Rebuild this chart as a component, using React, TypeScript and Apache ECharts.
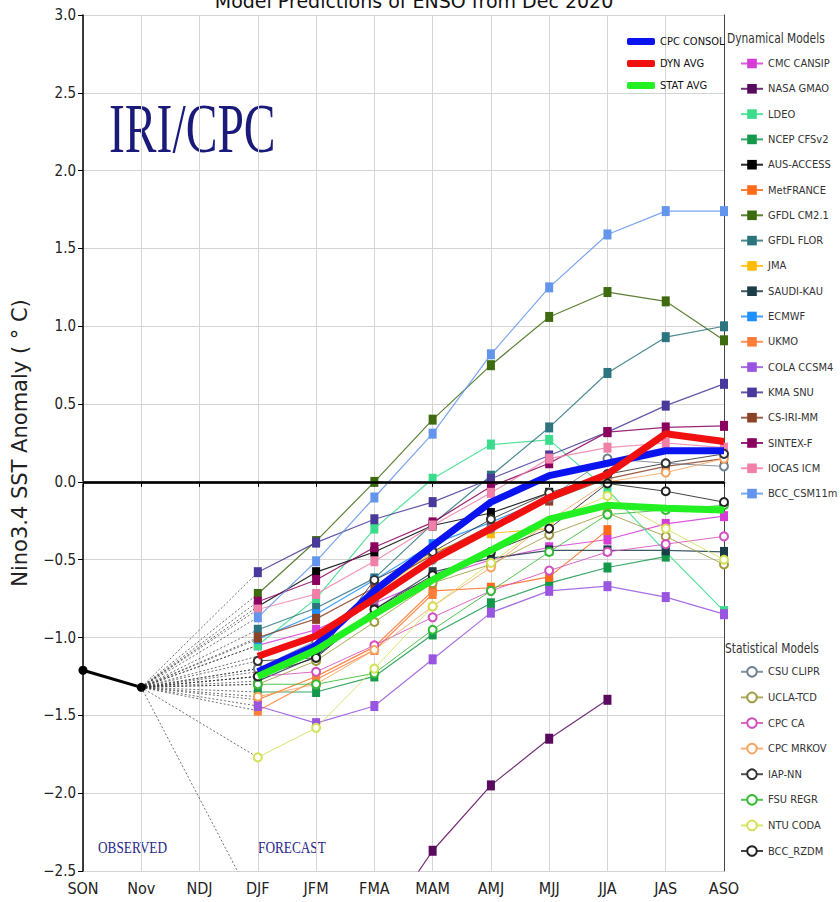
import React, { useEffect, useRef } from "react";
import * as echarts from "echarts";

// ---------- data ----------
const categories = ["SON", "Nov", "NDJ", "DJF", "JFM", "FMA", "MAM", "AMJ", "MJJ", "JJA", "JAS", "ASO"];
const observed = [-1.21, -1.32];

// forecast values, DJF .. ASO
const cpcConsol = [-1.22, -1.05, -0.7, -0.41, -0.13, 0.04, 0.12, 0.2, 0.2];
const dynAvg = [-1.12, -0.99, -0.75, -0.5, -0.3, -0.1, 0.05, 0.31, 0.26];
const statAvg = [-1.25, -1.08, -0.85, -0.63, -0.44, -0.24, -0.15, -0.17, -0.18];

const cmcCansip = [-1.05, -0.95, -0.78, -0.62, -0.5, -0.42, -0.37, -0.27, -0.22];
const nasaGmao = [-2.75, -3.05, -2.92, -2.37, -1.95, -1.65, -1.4, null, null];
const ldeo = [-1.05, -0.75, -0.3, 0.02, 0.24, 0.27, -0.05, -0.45, -0.83];
const ncepCfsv2 = [-1.35, -1.35, -1.25, -0.98, -0.78, -0.65, -0.55, -0.48, null];
const ausAccess = [-0.8, -0.58, -0.45, -0.28, -0.2, -0.07, null, null, null];
const metFrance = [-1.4, -1.25, -1.06, -0.7, -0.68, -0.61, -0.31, null, null];
const gfdlCm21 = [-0.72, -0.38, 0.0, 0.4, 0.75, 1.06, 1.22, 1.16, 0.91];
const gfdlFlor = [-0.95, -0.81, -0.62, -0.27, 0.04, 0.35, 0.7, 0.93, 1.0];
const jma = [-1.2, -1.05, -0.72, -0.45, -0.33, -0.3, null, null, null];
const saudiKau = [-1.28, -1.12, -0.82, -0.58, -0.49, -0.44, -0.44, -0.44, -0.45];
const ecmwf = [-1.01, -0.85, -0.63, -0.4, -0.26, -0.1, null, null, null];
const ukmo = [-1.47, -1.27, -1.08, -0.72, null, null, null, null, null];
const colaCcsm4 = [-1.44, -1.55, -1.44, -1.14, -0.84, -0.7, -0.67, -0.74, -0.85];
const kmaSnu = [-0.58, -0.39, -0.24, -0.13, 0.02, 0.17, 0.32, 0.49, 0.63];
const csIriMm = [-1.0, -0.88, -0.68, -0.47, -0.28, -0.12, 0.02, 0.1, 0.15];
const sintexF = [-0.77, -0.63, -0.42, -0.26, -0.03, 0.12, 0.32, 0.35, 0.36];
const iocasIcm = [-0.82, -0.72, -0.51, -0.28, -0.07, 0.15, 0.22, 0.25, 0.22];
const bccCsm11m = [-0.87, -0.51, -0.1, 0.31, 0.82, 1.25, 1.59, 1.74, 1.74];

const csuClipr = [-1.2, -1.02, -0.75, -0.5, -0.3, -0.1, 0.15, 0.12, 0.1];
const uclaTcd = [-1.3, -1.15, -0.9, -0.65, -0.53, -0.34, -0.2, -0.35, -0.53];
const cpcCa = [-1.25, -1.22, -1.05, -0.87, -0.7, -0.57, -0.45, -0.4, -0.35];
const cpcMrkov = [-1.38, -1.3, -1.08, -0.8, -0.55, -0.25, 0.0, 0.06, 0.15];
const iapNn = [-1.15, -1.13, -0.63, -0.45, -0.24, -0.07, 0.05, 0.12, 0.18];
const fsuRegr = [-1.3, -1.3, -1.23, -0.95, -0.7, -0.45, -0.21, -0.18, -0.15];
const ntuCoda = [-1.77, -1.58, -1.2, -0.8, -0.52, -0.25, -0.09, -0.3, -0.5];
const bccRzdm = [-1.25, -1.13, -0.82, -0.6, -0.45, -0.3, -0.01, -0.06, -0.13];

const averageNames = ["CPC CONSOL", "DYN AVG", "STAT AVG"];
const averageValues = [cpcConsol, dynAvg, statAvg];

const dynamicalNames = [
  "CMC CANSIP", "NASA GMAO", "LDEO", "NCEP CFSv2", "AUS-ACCESS", "MetFRANCE", "GFDL CM2.1", "GFDL FLOR", "JMA",
  "SAUDI-KAU", "ECMWF", "UKMO", "COLA CCSM4", "KMA SNU", "CS-IRI-MM", "SINTEX-F", "IOCAS ICM", "BCC_CSM11m",
];
const dynamicalValues = [
  cmcCansip, nasaGmao, ldeo, ncepCfsv2, ausAccess, metFrance, gfdlCm21, gfdlFlor, jma,
  saudiKau, ecmwf, ukmo, colaCcsm4, kmaSnu, csIriMm, sintexF, iocasIcm, bccCsm11m,
];
const statisticalNames = ["CSU CLIPR", "UCLA-TCD", "CPC CA", "CPC MRKOV", "IAP-NN", "FSU REGR", "NTU CODA", "BCC_RZDM"];
const statisticalValues = [csuClipr, uclaTcd, cpcCa, cpcMrkov, iapNn, fsuRegr, ntuCoda, bccRzdm];

// ---------- styles ----------
const averageColors = ["#0a14f0", "#f01010", "#22f022"];
const dynamicalColors = [
  "#d63cd6", "#5a0a5e", "#3bdc8c", "#14994a", "#000000", "#ff6a1a", "#3f6b10", "#2c7580", "#ffbb00",
  "#1c3c48", "#1e90ff", "#ff7f3a", "#9955e0", "#48399a", "#8b4226", "#8b005e", "#f080a8", "#6495ed",
];
const statisticalColors = ["#708090", "#a09a40", "#d050c0", "#f4a460", "#333333", "#33bb33", "#d4e157", "#222222"];

const FONT = "'DejaVu Sans Condensed', 'Liberation Sans Narrow', 'DejaVu Sans', sans-serif";
const SERIF = "'Liberation Serif', 'DejaVu Serif', serif";

const full = (vals: (number | null)[]) => [null, null, null, ...vals];

export default function App() {
  const ref = useRef<HTMLDivElement>(null);

  useEffect(() => {
    if (!ref.current) return;
    const chart = echarts.init(ref.current, null, { renderer: "svg" });

    const series: any[] = [];
    const allForecasts = [...averageValues, ...dynamicalValues, ...statisticalValues];

    // dotted connectors from Nov to each model's first forecast
    allForecasts.forEach((vals, i) => {
      series.push({
        id: "conn" + i,
        type: "line",
        data: [null, observed[1], null, vals[0], null, null, null, null, null, null, null, null],
        connectNulls: true,
        symbol: "none",
        silent: true,
        lineStyle: { color: "#333", width: 0.7, type: [2, 2] },
        z: 1,
      });
    });

    // observed
    series.push({
      id: "observed",
      type: "line",
      data: [...observed, null, null, null, null, null, null, null, null, null, null],
      symbol: "circle",
      symbolSize: 9,
      itemStyle: { color: "#000" },
      lineStyle: { color: "#000", width: 3 },
      silent: true,
      z: 6,
      markLine: {
        symbol: "none",
        silent: true,
        label: { show: false },
        lineStyle: { color: "#000", width: 2.5, type: "solid" },
        data: [{ yAxis: 0 }],
      },
    });

    dynamicalNames.forEach((name, i) => {
      series.push({
        name,
        type: "line",
        data: full(dynamicalValues[i]),
        symbol: "rect",
        symbolSize: [8, 10],
        itemStyle: { color: dynamicalColors[i] },
        lineStyle: { color: dynamicalColors[i], width: 1.2, opacity: 0.85 },
        z: 2,
      });
    });

    statisticalNames.forEach((name, i) => {
      series.push({
        name,
        type: "line",
        data: full(statisticalValues[i]),
        symbol: "emptyCircle",
        symbolSize: 8,
        itemStyle: { color: statisticalColors[i], borderColor: statisticalColors[i], borderWidth: 1.5 },
        lineStyle: { color: statisticalColors[i], width: 1, opacity: 0.85 },
        z: 2,
      });
    });

    const avgZ = [3, 4, 5];
    averageNames.forEach((name, i) => {
      series.push({
        name,
        type: "line",
        data: full(averageValues[i]),
        symbol: "none",
        itemStyle: { color: averageColors[i] },
        lineStyle: { color: averageColors[i], width: 7 },
        z: avgZ[i],
      });
    });

    const legendText = { fontFamily: FONT, fontSize: 11, color: "#333" };

    const option: any = {
      animation: false,
      grid: { left: 83, right: 116, top: 15, bottom: 31, containLabel: false },
      xAxis: [
        {
          type: "category",
          data: categories,
          boundaryGap: false,
          axisLine: { lineStyle: { color: "#000", width: 1.5 } },
          axisTick: { show: true, length: 5, lineStyle: { color: "#000" } },
          axisLabel: { fontFamily: FONT, fontSize: 16, color: "#222", margin: 9 },
          splitLine: { show: true, lineStyle: { color: "#d4d4d4", width: 1 } },
        },
        {
          type: "category",
          position: "top",
          data: categories,
          boundaryGap: false,
          axisLine: { lineStyle: { color: "#a0a0a0", width: 3 } },
          axisTick: { show: false },
          axisLabel: { show: false },
          splitLine: { show: false },
        },
      ],
      yAxis: [
        {
          type: "value",
          min: -2.5,
          max: 3.0,
          interval: 0.5,
          name: "Nino3.4 SST Anomaly ( \u00b0 C)",
          nameLocation: "middle",
          nameGap: 53,
          nameTextStyle: { fontFamily: "'DejaVu Sans', sans-serif", fontSize: 21, color: "#222" },
          axisLine: { show: true, lineStyle: { color: "#000", width: 1.5 } },
          axisTick: { show: true, length: 5, lineStyle: { color: "#000" } },
          axisLabel: {
            fontFamily: FONT,
            fontSize: 15,
            color: "#222",
            margin: 7,
            formatter: (v: number) => v.toFixed(1).replace("-", "\u2212"),
          },
          splitLine: { show: true, lineStyle: { color: "#d4d4d4", width: 1 } },
        },
        {
          type: "value",
          position: "right",
          min: -2.5,
          max: 3.0,
          interval: 0.5,
          axisLine: { show: true, lineStyle: { color: "#444", width: 1 } },
          axisTick: { show: false },
          axisLabel: { show: false },
          splitLine: { show: false },
        },
      ],
      legend: [
        {
          data: averageNames,
          orient: "vertical",
          left: 622,
          top: 31,
          icon: "roundRect",
          itemWidth: 28,
          itemHeight: 7,
          itemGap: 11,
          selectedMode: false,
          textStyle: { ...legendText, color: "#111" },
        },
        {
          data: dynamicalNames,
          orient: "vertical",
          left: 735,
          top: 53,
          itemWidth: 22,
          itemHeight: 12,
          itemGap: 14.3,
          selectedMode: false,
          textStyle: legendText,
        },
        {
          data: statisticalNames,
          orient: "vertical",
          left: 735,
          top: 661,
          itemWidth: 22,
          itemHeight: 12,
          itemGap: 14,
          selectedMode: false,
          textStyle: legendText,
        },
      ],
      graphic: [
        {
          type: "text",
          x: 414,
          y: 1,
          silent: true,
          style: {
            text: "Model Predictions of ENSO from Dec 2020",
            fontFamily: "'DejaVu Sans', sans-serif",
            fontSize: 19,
            fill: "#111",
            align: "center",
            verticalAlign: "middle",
          },
        },
        {
          type: "text",
          x: 727,
          y: 38,
          scaleX: 0.82,
          silent: true,
          style: { text: "Dynamical Models", fontFamily: FONT, fontSize: 14.5, fill: "#333", verticalAlign: "middle" },
        },
        {
          type: "text",
          x: 725,
          y: 648,
          scaleX: 0.82,
          silent: true,
          style: { text: "Statistical Models", fontFamily: FONT, fontSize: 14.5, fill: "#333", verticalAlign: "middle" },
        },
        {
          type: "text",
          x: 109,
          y: 129,
          scaleX: 0.68,
          silent: true,
          style: { text: "IRI/CPC", fontFamily: SERIF, fontSize: 70, fill: "#1a1a7a", verticalAlign: "middle" },
        },
        {
          type: "text",
          x: 98,
          y: 848,
          scaleX: 0.83,
          silent: true,
          style: { text: "OBSERVED", fontFamily: SERIF, fontSize: 16, fill: "#2a2a8a", verticalAlign: "middle" },
        },
        {
          type: "text",
          x: 258,
          y: 848,
          scaleX: 0.83,
          silent: true,
          style: { text: "FORECAST", fontFamily: SERIF, fontSize: 16, fill: "#2a2a8a", verticalAlign: "middle" },
        },
      ],
      series,
    };

    chart.setOption(option);
    return () => chart.dispose();
  }, []);

  return (
    <div
      ref={ref}
      style={{ position: "fixed", left: 0, top: 0, width: 840, height: 902, background: "#fff" }}
    />
  );
}
